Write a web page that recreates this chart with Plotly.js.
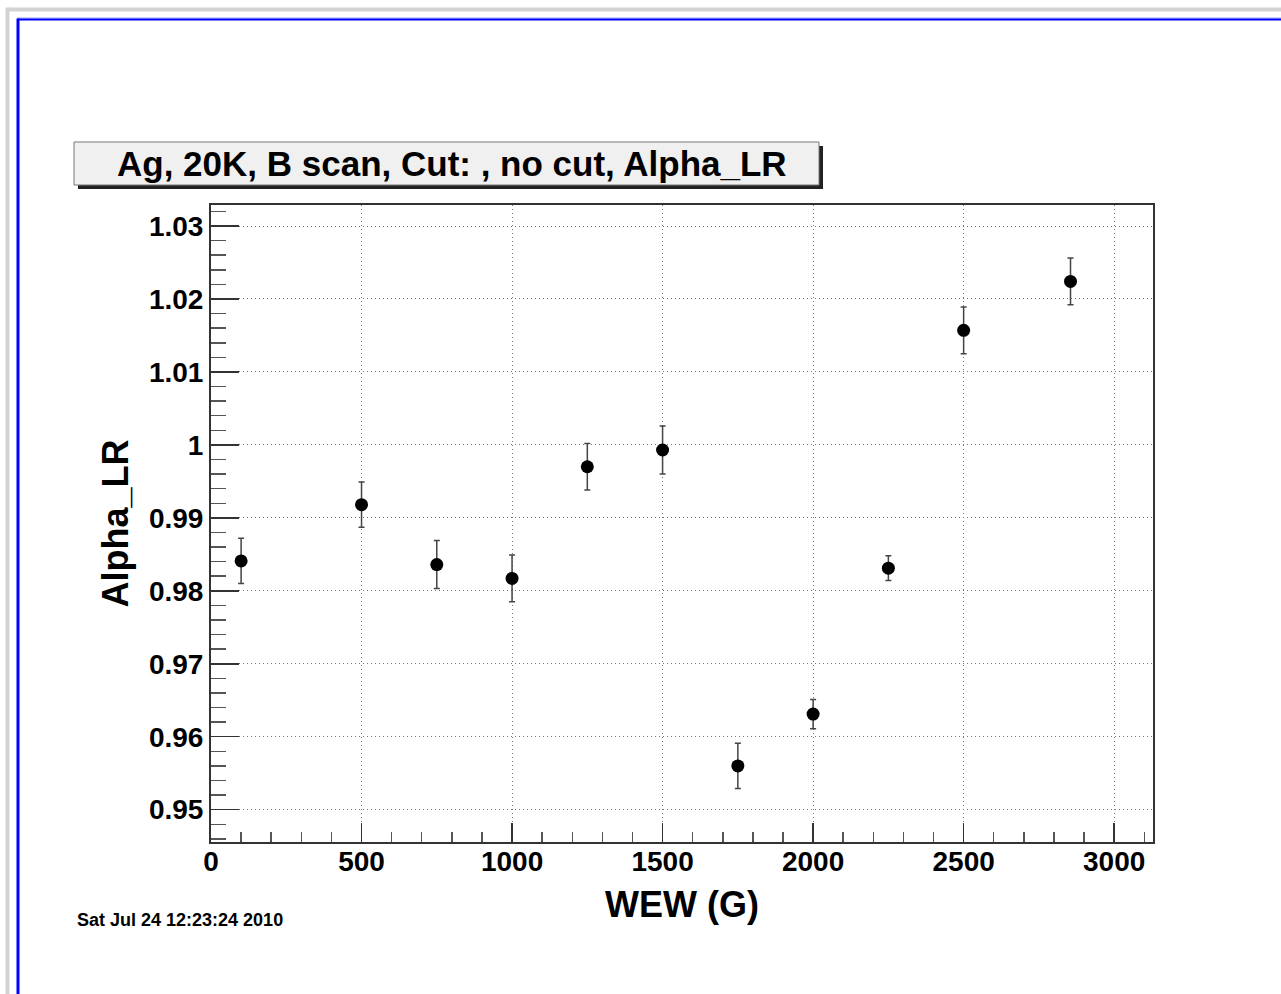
<!DOCTYPE html>
<html>
<head>
<meta charset="utf-8">
<script src="https://cdn.plot.ly/plotly-3.0.1.min.js"></script>
<style>html,body{margin:0;padding:0;background:#fff;} #chart{width:1281px;height:994px;}</style>
</head>
<body>
<div id="chart"></div>
<script>
// Data
const wew = [100, 500, 750, 1000, 1250, 1500, 1750, 2000, 2250, 2500, 2855];
const alphaLR = [0.9841, 0.9918, 0.9836, 0.9817, 0.9970, 0.9993, 0.9560, 0.9631, 0.9831, 1.0157, 1.0224];
const alphaErr = [0.0031, 0.0031, 0.0033, 0.0032, 0.0032, 0.0033, 0.0031, 0.0020, 0.0017, 0.0032, 0.0032];
const titleText = "Ag, 20K, B scan, Cut: , no cut, Alpha_LR";
const xTitle = "WEW (G)";
const yTitle = "Alpha_LR";
const dateText = "Sat Jul 24 12:23:24 2010";

const W = 1281, H = 994;
const M = {l: 211, r: 128, t: 205, b: 152};
const PW = W - M.l - M.r, PH = H - M.t - M.b;
const px = x => (x - M.l) / PW;
const py = y => (H - M.b - y) / PH;
const FONT = "Liberation Sans, Arial, Helvetica, sans-serif";

const trace = {
  x: wew, y: alphaLR, type: 'scatter', mode: 'markers',
  marker: {color: '#000', size: 13},
  error_y: {type: 'data', array: alphaErr, visible: true, color: '#444', thickness: 1.5, width: 3},
  cliponaxis: false
};

const shapes = [
  // outer light gray frame
  {type: 'line', xref: 'paper', yref: 'paper', x0: px(7.5), x1: px(1300), y0: py(9.5), y1: py(9.5), line: {color: '#d3d3d3', width: 4}},
  {type: 'line', xref: 'paper', yref: 'paper', x0: px(7.5), x1: px(7.5), y0: py(7.5), y1: py(1010), line: {color: '#d3d3d3', width: 4}},
  // blue canvas frame
  {type: 'line', xref: 'paper', yref: 'paper', x0: px(17), x1: px(1300), y0: py(18), y1: py(18), line: {color: '#a0a0ff', width: 1}},
  {type: 'line', xref: 'paper', yref: 'paper', x0: px(18), x1: px(1300), y0: py(19.5), y1: py(19.5), line: {color: '#0000ff', width: 2}},
  {type: 'line', xref: 'paper', yref: 'paper', x0: px(18), x1: px(18), y0: py(18.5), y1: py(1010), line: {color: '#0000ff', width: 3}},
  // title box shadow
  {type: 'rect', xref: 'paper', yref: 'paper', x0: px(78), x1: px(823), y0: py(146), y1: py(189), fillcolor: '#222', line: {width: 0}},
  // title box
  {type: 'rect', xref: 'paper', yref: 'paper', x0: px(74), x1: px(819), y0: py(142), y1: py(185), fillcolor: '#f0f0f0', line: {color: '#777', width: 1}}
];

const annotations = [
  {text: '<b>' + titleText + '</b>', xref: 'paper', yref: 'paper', x: px(452), y: py(163), xanchor: 'center', yanchor: 'middle', showarrow: false, font: {family: FONT, size: 35, color: '#000'}},
  {text: '<b>' + dateText + '</b>', xref: 'paper', yref: 'paper', x: px(75), y: py(920), xanchor: 'left', yanchor: 'middle', showarrow: false, font: {family: FONT, size: 18, color: '#000'}}
];

const layout = {
  width: W, height: H,
  margin: M,
  paper_bgcolor: '#fff', plot_bgcolor: '#fff',
  showlegend: false,
  font: {family: FONT, color: '#000'},
  xaxis: {
    range: [0, 3129], dtick: 500, tick0: 0,
    ticks: 'inside', ticklen: 19, tickwidth: 1.5, tickcolor: '#333',
    minor: {dtick: 100, ticks: 'inside', ticklen: 10, tickwidth: 1.5, tickcolor: '#555', showgrid: false},
    showgrid: true, gridcolor: '#777', griddash: '1px,3px', gridwidth: 1,
    zeroline: false,
    showline: true, linecolor: '#333', linewidth: 2, mirror: true,
    ticklabelstandoff: -7,
    tickfont: {family: FONT, size: 28, weight: 'bold', color: '#000'},
    title: {text: '<b>' + xTitle + '</b>', font: {family: FONT, size: 36, color: '#000'}, standoff: 16}
  },
  yaxis: {
    range: [0.94557, 1.03288], dtick: 0.01, tick0: 0.95,
    ticks: 'inside', ticklen: 28, tickwidth: 1.5, tickcolor: '#333',
    minor: {dtick: 0.002, ticks: 'inside', ticklen: 15, tickwidth: 1.5, tickcolor: '#555', showgrid: false},
    showgrid: true, gridcolor: '#777', griddash: '1px,3px', gridwidth: 1,
    zeroline: false,
    showline: true, linecolor: '#333', linewidth: 2, mirror: true,
    tickfont: {family: FONT, size: 28, weight: 'bold', color: '#000'},
    title: {text: '<b>' + yTitle + '</b>', font: {family: FONT, size: 36, color: '#000'}, standoff: 9}
  },
  shapes: shapes,
  annotations: annotations
};

Plotly.newPlot('chart', [trace], layout, {staticPlot: true, displayModeBar: false});
</script>
</body>
</html>
